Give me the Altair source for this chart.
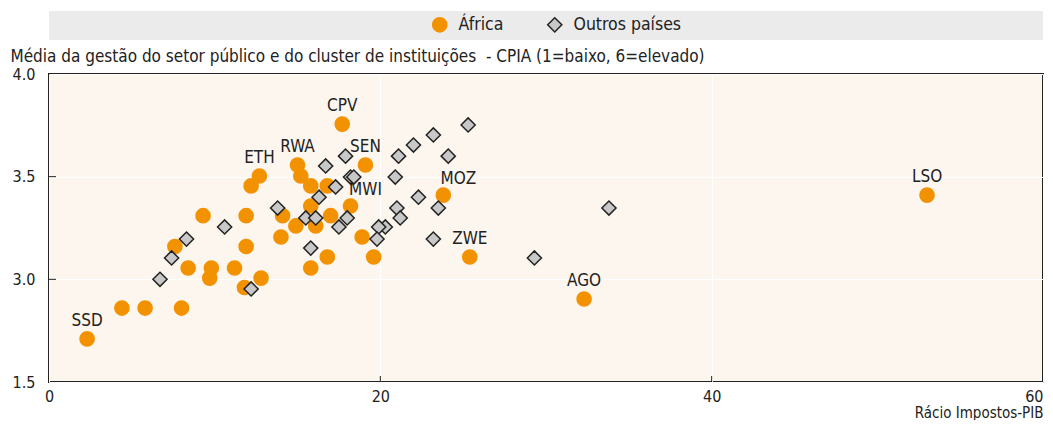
import altair as alt
import pandas as pd

# Africa (orange circles): x = tax-to-GDP ratio, y = CPIA (display scale)
africa_x = [2.3, 4.4, 5.8, 8.0, 7.6, 8.4, 9.8, 9.7, 11.2, 9.3, 11.9, 11.9, 11.8, 12.8,
            12.7, 12.2, 15.0, 15.2, 15.8, 16.8, 15.8, 14.1, 14.9, 16.1, 14.0, 17.0,
            18.2, 19.1, 17.7, 18.9, 16.8, 15.8, 19.6, 23.8, 25.4, 32.3, 53.0]
africa_y = [2.71, 2.86, 2.86, 2.86, 3.16, 3.055, 3.055, 3.006, 3.055, 3.31, 3.31, 3.16, 2.96, 3.006,
            3.503, 3.455, 3.557, 3.503, 3.455, 3.455, 3.357, 3.31, 3.26, 3.26, 3.206, 3.31,
            3.357, 3.557, 3.756, 3.206, 3.109, 3.055, 3.109, 3.41, 3.109, 2.904, 3.41]
africa_lab = ["SSD", "", "", "", "", "", "", "", "", "", "", "", "", "",
              "ETH", "", "RWA", "", "", "", "", "", "", "", "", "",
              "MWI", "SEN", "CPV", "", "", "", "", "MOZ", "ZWE", "AGO", "LSO"]

# Other countries (grey diamonds)
other_x = [6.7, 7.4, 8.3, 10.6, 12.2, 13.8, 15.5, 16.1, 16.3, 15.8, 16.7, 17.3, 17.9, 18.2,
           18.4, 18.0, 17.5, 21.1, 22.0, 23.2, 25.3, 24.1, 20.9, 21.0, 21.2, 22.3, 23.5,
           20.3, 19.9, 19.8, 23.2, 29.3, 33.8]
other_y = [3.0, 3.104, 3.196, 3.255, 2.953, 3.347, 3.299, 3.299, 3.40, 3.152, 3.552, 3.45, 3.60, 3.498,
           3.498, 3.299, 3.255, 3.60, 3.654, 3.703, 3.752, 3.60, 3.498, 3.347, 3.299, 3.40, 3.347,
           3.255, 3.255, 3.196, 3.196, 3.104, 3.347]

shifted_labels = ["MWI", "MOZ"]

x_ticks = [0, 20, 40, 60]
y_ticks = [2.5, 3.0, 3.5, 4.0]
inner_x_ticks = [20, 40]
inner_y_ticks = [3.0, 3.5]

FONT = "DejaVu Sans Condensed"
ORANGE = "#F39200"
GREY = "#C8C8C8"
DARK = "#222222"

rows = []
for x, y, l in zip(africa_x, africa_y, africa_lab):
    rows.append({"x": x, "y": y, "grupo": "África", "lab": l})
for x, y in zip(other_x, other_y):
    rows.append({"x": x, "y": y, "grupo": "Outros países", "lab": ""})
df = pd.DataFrame(rows)
df["ord"] = range(len(df))

W, H = 994, 308

xscale = alt.Scale(domain=[0, 60], nice=False, zero=False)
yscale = alt.Scale(domain=[2.5, 4.0], nice=False, zero=False)

xaxis = alt.Axis(values=x_ticks, title="Rácio Impostos-PIB", labelFlush=False, ticks=False,
                 domain=False, grid=True, gridColor="white", gridWidth=1,
                 labelFontSize=16, labelPadding=6, labelColor=DARK,
                 labelAlign=alt.ExprRef(expr="datum.value == 60 ? 'right' : 'center'"),
                 titleFontSize=15, titleFontWeight="normal", titleColor=DARK,
                 titleAnchor="end", titleAlign="right", titleX=W, titleY=38,
                 titleBaseline="bottom", format="d")
yaxis = alt.Axis(values=y_ticks, title="Média da gestão do setor público e do cluster de instituições\u00a0 - CPIA (1=baixo, 6=elevado)",
                 labelExpr="datum.value == 2.5 ? '1.5' : format(datum.value, '.1f')",
                 ticks=False, domain=False, grid=True, gridColor="white", gridWidth=1,
                 labelFontSize=16, labelPadding=14, labelColor=DARK,
                 titleAngle=0, titleAlign="left", titleBaseline="bottom",
                 titleX=-39, titleY=-9, titleFontSize=17, titleFontWeight="normal",
                 titleColor=DARK)

band = alt.Chart(pd.DataFrame({"a": [0]})).mark_rect(color="#EBEBEB").encode(
    x=alt.value(0), x2=alt.value(W), y=alt.value(-63), y2=alt.value(-34))

leg = dict(title=None, orient="none", direction="horizontal",
           legendX=382, legendY=-58, labelFontSize=17.5, labelColor=DARK,
           labelFont=FONT, symbolSize=200, columnPadding=40,
           labelOffset=10, symbolStrokeWidth=1.5)
dom = ["África", "Outros países"]

points = alt.Chart(df).mark_point(filled=True, size=200, strokeWidth=1.5, opacity=1).encode(
    x=alt.X("x:Q", scale=xscale, axis=xaxis),
    y=alt.Y("y:Q", scale=yscale, axis=yaxis),
    shape=alt.Shape("grupo:N", scale=alt.Scale(domain=dom, range=["circle", "diamond"]),
                    legend=alt.Legend(**leg)),
    fill=alt.Fill("grupo:N", scale=alt.Scale(domain=dom, range=[ORANGE, GREY]),
                  legend=alt.Legend(**leg)),
    stroke=alt.Stroke("grupo:N", scale=alt.Scale(domain=dom, range=[ORANGE, DARK]),
                      legend=alt.Legend(**leg)),
    order=alt.Order("ord:Q"),
)

lab_df = df[df["lab"] != ""]
labels_c = alt.Chart(lab_df[~lab_df["lab"].isin(shifted_labels)]).mark_text(
    dy=-18, fontSize=17, font=FONT, color=DARK).encode(
    x=alt.X("x:Q", scale=xscale), y=alt.Y("y:Q", scale=yscale), text="lab:N")
labels_s = alt.Chart(lab_df[lab_df["lab"].isin(shifted_labels)]).mark_text(
    dx=15, dy=-16, fontSize=17, font=FONT, color=DARK).encode(
    x=alt.X("x:Q", scale=xscale), y=alt.Y("y:Q", scale=yscale), text="lab:N")

yt = alt.Chart(pd.DataFrame({"v": inner_y_ticks})).mark_rule(color=DARK, strokeWidth=1).encode(
    y=alt.Y("v:Q", scale=yscale), x=alt.value(0), x2=alt.value(7))
xt = alt.Chart(pd.DataFrame({"v": inner_x_ticks})).mark_rule(color=DARK, strokeWidth=1).encode(
    x=alt.X("v:Q", scale=xscale), y=alt.value(H), y2=alt.value(H - 6))

chart = alt.layer(band, yt, xt, points, labels_c, labels_s).properties(
    width=W, height=H,
    autosize=alt.AutoSizeParams(type="none"),
    padding={"left": 41, "top": 66, "right": 2, "bottom": 38},
).configure(font=FONT).configure_view(
    stroke=DARK, strokeWidth=2, fill="#FDF6EE"
)

chart.save("out.html", embed_options={"renderer": "svg", "actions": False})
